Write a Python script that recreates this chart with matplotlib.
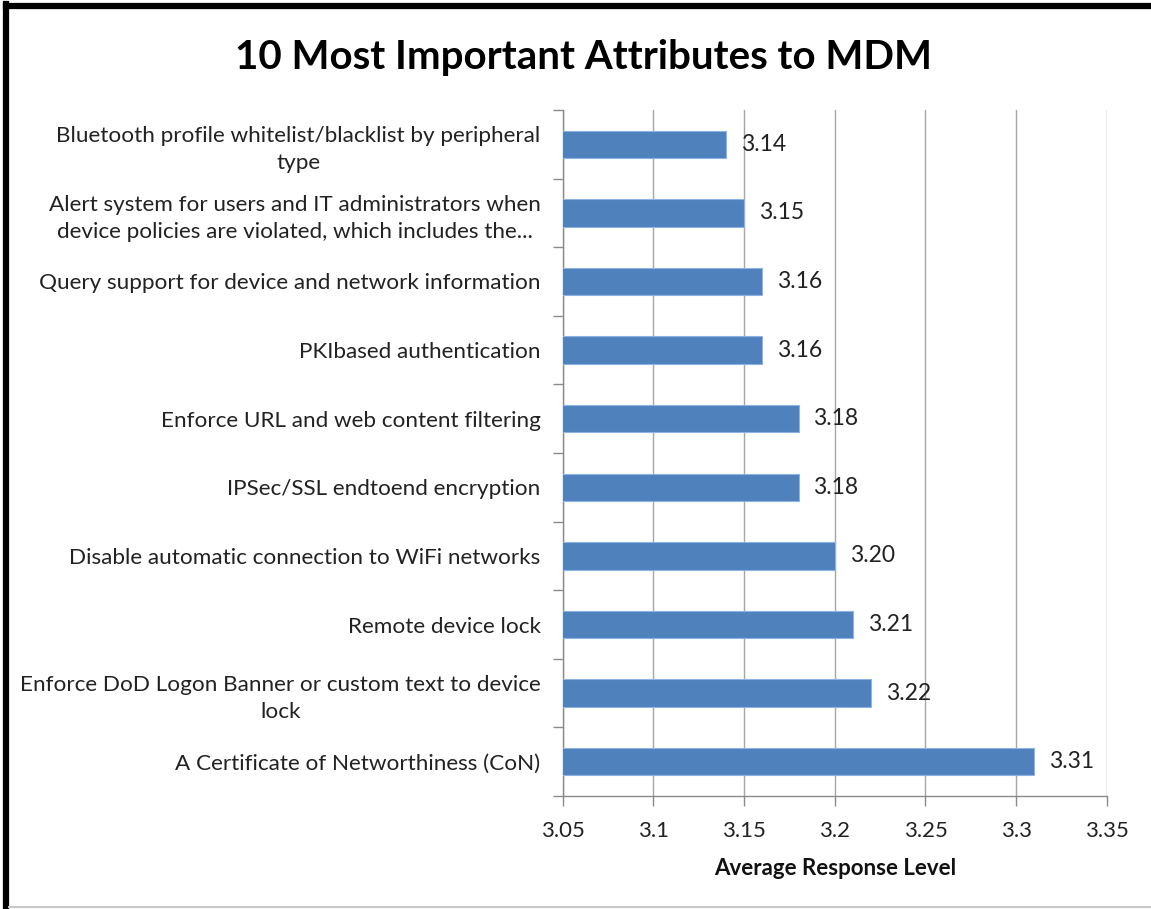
import matplotlib.pyplot as plt
from matplotlib.lines import Line2D
import numpy as np

# Attributes and their average response levels (top to bottom)
attributes = [
    "Bluetooth profile whitelist/blacklist by peripheral\ntype",
    "Alert system for users and IT administrators when\ndevice policies are violated, which includes the...",
    "Query support for device and network information",
    "PKIbased authentication",
    "Enforce URL and web content filtering",
    "IPSec/SSL endtoend encryption",
    "Disable automatic connection to WiFi networks",
    "Remote device lock",
    "Enforce DoD Logon Banner or custom text to device\nlock",
    "A Certificate of Networthiness (CoN)",
]
scores = [3.14, 3.15, 3.16, 3.16, 3.18, 3.18, 3.20, 3.21, 3.22, 3.31]
x_ticks = [3.05, 3.1, 3.15, 3.2, 3.25, 3.3, 3.35]
x_tick_labels = ["3.05", "3.1", "3.15", "3.2", "3.25", "3.3", "3.35"]

plt.rcParams['font.family'] = ['Lato', 'DejaVu Sans']

fig = plt.figure(figsize=(11.51, 9.09), dpi=100)
ax = fig.add_axes([0.489, 0.1243, 0.4726, 0.7547])

y = np.arange(len(attributes))
ax.barh(y, scores, left=0, height=0.4, color="#4F81BD",
        edgecolor="#8DB3E2", linewidth=0.8, zorder=3)

ax.set_xlim(3.05, 3.35)
ax.set_ylim(len(attributes) - 0.5, -0.5)

# value labels at the bar ends
for yi, v in zip(y, scores):
    ax.text(v + 0.0082, yi, f"{v:.2f}", va="center", ha="left",
            fontsize=16.5, color="#222222", zorder=4)

ax.set_xticks(x_ticks)
ax.set_xticklabels(x_tick_labels, fontsize=16, color="#222222")
ax.xaxis.grid(True, color="#a6a6a6", linewidth=1.0, zorder=0)
ax.tick_params(axis="x", direction="out", length=7, width=1,
               color="#8a8a8a", pad=11)

ax.set_yticks(y)
ax.set_yticklabels(attributes, fontsize=16.2, color="#222222",
                   multialignment="center", linespacing=1.45)
ax.set_yticks(np.arange(len(attributes) + 1) - 0.5, minor=True)
ax.tick_params(axis="y", which="major", length=0, pad=16)
ax.tick_params(axis="y", which="minor", length=7, width=1,
               color="#8a8a8a", direction="out")

for side in ("top", "right"):
    ax.spines[side].set_visible(False)
for side in ("left", "bottom"):
    ax.spines[side].set_color("#8a8a8a")
    ax.spines[side].set_linewidth(1)

ax.set_xlabel("Average Response Level", fontsize=16, fontweight="bold",
              labelpad=12, color="#111111")

fig.text(0.507, 0.937, "10 Most Important Attributes to MDM", fontsize=29,
         fontweight="bold", ha="center", va="center", color="#000000")

# chart frame: heavy black top/left, thin grey bottom
fig.add_artist(Line2D([0.005, 1.0], [0.9935, 0.9935], color="black",
                      linewidth=4.5, transform=fig.transFigure))
fig.add_artist(Line2D([0.005, 0.005], [0.0, 0.996], color="black",
                      linewidth=4.5, transform=fig.transFigure))
fig.add_artist(Line2D([0.008, 1.0], [0.002, 0.002], color="#c8c8c8",
                      linewidth=1.5, transform=fig.transFigure))

plt.savefig("out.png", dpi=100)
